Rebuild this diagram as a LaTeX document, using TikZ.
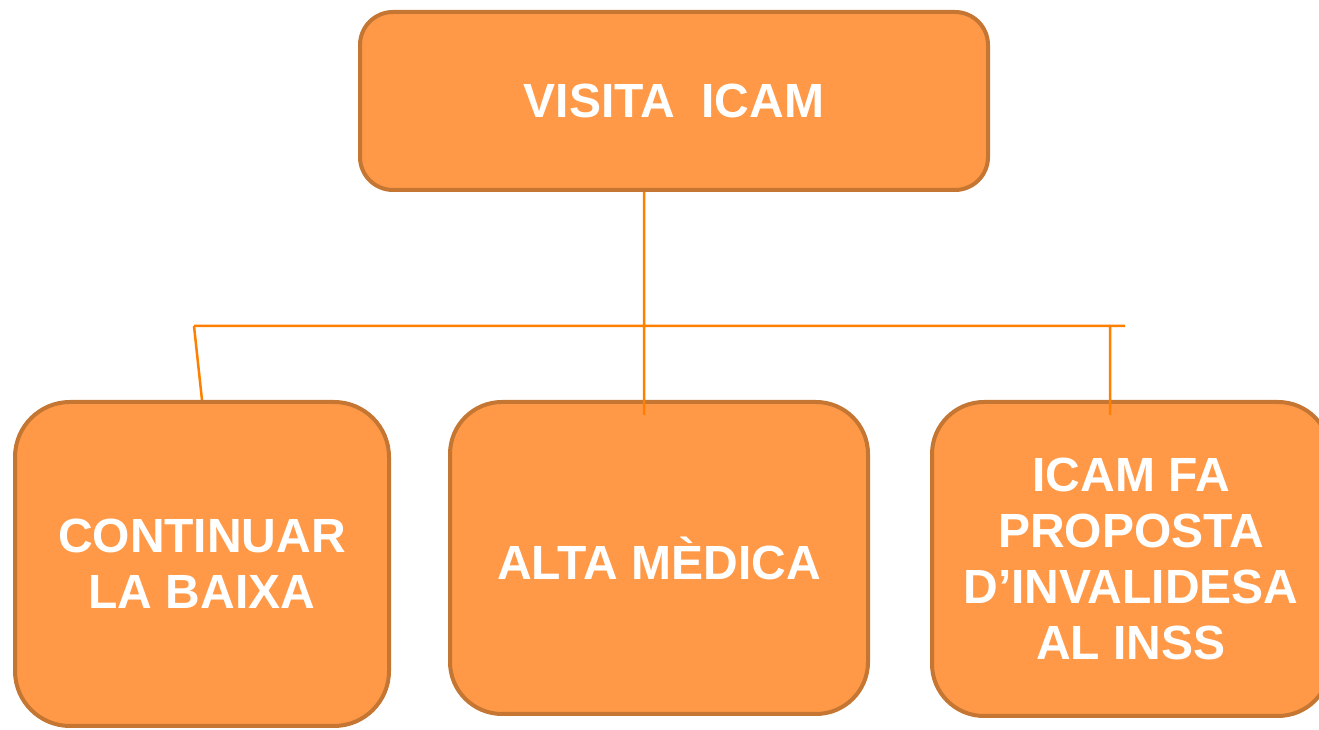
\documentclass[tikz,border=0pt]{standalone}
\usepackage{fontspec}
\setmainfont{Liberation Sans}
\usepackage{tikz}
\usetikzlibrary{positioning}
\definecolor{boxfill}{RGB}{255,153,71}
\definecolor{boxline}{RGB}{197,118,50}
\definecolor{linkorange}{RGB}{255,128,0}
\tikzstyle{box}=[%
      rectangle, draw=boxline, line width=4pt, fill=boxfill, text=white,
      font=\fontsize{48}{56}\selectfont\bfseries, align=center, inner sep=0pt
]
\tikzstyle{link}=[%
      draw=linkorange, line width=2.5pt
]

\begin{document}
\begin{tikzpicture}[x=1pt, y=1pt]
    \clip (0,0) rectangle (1319,730);

    \node[box, rounded corners=33pt, minimum width=628pt, minimum height=178pt] (visita)   at (674,629)  {VISITA\ \ ICAM};
    \node[box, rounded corners=55pt, minimum width=374pt, minimum height=324pt] (continuar) at (202,166) {CONTINUAR\\LA BAIXA};
    \node[box, rounded corners=52pt, minimum width=418pt, minimum height=312pt] (alta)     at (659,172)  {ALTA MÈDICA};
    \node[box, rounded corners=52pt, minimum width=398pt, minimum height=314pt] (icam)     at (1131,171) {ICAM FA\\PROPOSTA\\D’INVALIDESA\\AL INSS};

    \coordinate (trunk)  at (644,538);
    \coordinate (busl)   at (194,404);
    \coordinate (busr)   at (1125,404);
    \coordinate (dropm)  at (644,315);
    \coordinate (droprt) at (1110,404);
    \coordinate (dropr)  at (1110,315);
    \coordinate (dropl)  at (202,330);

    \path[link] (trunk) -- (dropm)
          (busl) -- (busr)
          (busl) -- (dropl)
          (droprt) -- (dropr)
    ;

\end{tikzpicture}
\end{document}
